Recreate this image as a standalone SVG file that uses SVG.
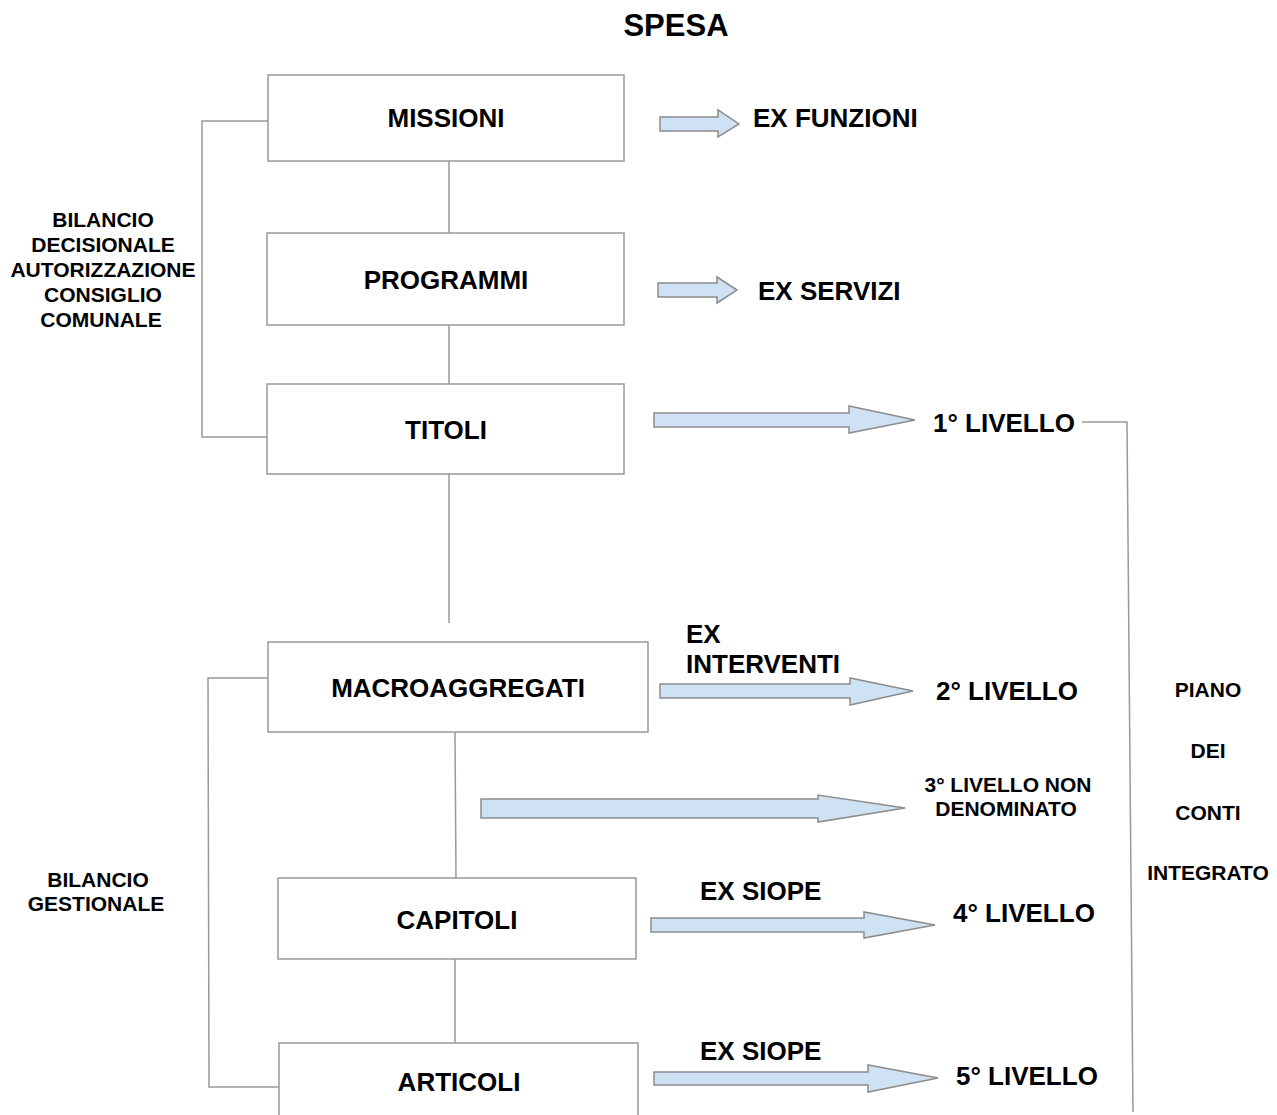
<svg xmlns="http://www.w3.org/2000/svg" width="1277" height="1115" viewBox="0 0 1277 1115">
<style>
text { font-family: "Liberation Sans", Arial, sans-serif; font-weight: bold; fill: #000; }
.t26 { font-size: 26px; }
.t21 { font-size: 21px; }
.mid { text-anchor: middle; }
.box { fill: #fff; stroke: #999; stroke-width: 1.5; }
.line { fill: none; stroke: #999; stroke-width: 1.5; }
.arr { fill: #cfe2f3; stroke: #8c8c8c; stroke-width: 1.5; stroke-linejoin: miter; }
</style>
<rect width="1277" height="1115" fill="#fff"/>
<text x="676" y="36" class="mid" style="font-size:31px">SPESA</text>

<g id="connectors">
  <line class="line" x1="449" y1="161" x2="449" y2="233"/>
  <line class="line" x1="449" y1="325" x2="449" y2="384"/>
  <line class="line" x1="449" y1="474" x2="449" y2="623"/>
  <line class="line" x1="455" y1="732" x2="456" y2="878"/>
  <line class="line" x1="455" y1="959" x2="455" y2="1043"/>
  <polyline class="line" points="268,121 202,121 202,437 267,437"/>
  <polyline class="line" points="268,678 208,678 209,1087 279,1087"/>
  <polyline class="line" points="1082,422 1127,422 1133,1112"/>
</g>

<g id="missioni"><rect class="box" x="268" y="75" width="356" height="86"/><text x="446" y="127" class="t26 mid">MISSIONI</text></g>
<g id="programmi"><rect class="box" x="267" y="233" width="357" height="92"/><text x="446" y="289" class="t26 mid">PROGRAMMI</text></g>
<g id="titoli"><rect class="box" x="267" y="384" width="357" height="90"/><text x="446" y="439" class="t26 mid">TITOLI</text></g>
<g id="macroaggregati"><rect class="box" x="268" y="642" width="380" height="90"/><text x="458" y="697" class="t26 mid">MACROAGGREGATI</text></g>
<g id="capitoli"><rect class="box" x="278" y="878" width="358" height="81"/><text x="457" y="929" class="t26 mid">CAPITOLI</text></g>
<g id="articoli"><rect class="box" x="279" y="1043" width="359" height="90"/><text x="459" y="1091" class="t26 mid">ARTICOLI</text></g>

<g id="label-decisionale">
  <text class="t21 mid" x="103" y="227">BILANCIO</text>
  <text class="t21 mid" x="103" y="252">DECISIONALE</text>
  <text class="t21 mid" x="103" y="277">AUTORIZZAZIONE</text>
  <text class="t21 mid" x="103" y="302">CONSIGLIO</text>
  <text class="t21 mid" x="101" y="327">COMUNALE</text>
</g>
<g id="label-gestionale">
  <text class="t21 mid" x="98" y="887">BILANCIO</text>
  <text class="t21 mid" x="96" y="911">GESTIONALE</text>
</g>
<g id="label-piano">
  <text class="t21 mid" x="1208" y="697">PIANO</text>
  <text class="t21 mid" x="1208" y="758">DEI</text>
  <text class="t21 mid" x="1208" y="820">CONTI</text>
  <text class="t21 mid" x="1208" y="880">INTEGRATO</text>
</g>

<g id="arrow-funzioni">
  <polygon class="arr" points="660,117 718,117 718,110 739,124 718,137 718,131 660,131"/>
  <text class="t26" x="753" y="127">EX FUNZIONI</text>
</g>
<g id="arrow-servizi">
  <polygon class="arr" points="658,283 717,283 717,277 737,290 717,303 717,297 658,297"/>
  <text class="t26" x="758" y="300">EX SERVIZI</text>
</g>
<g id="arrow-1">
  <polygon class="arr" points="654,413 849,413 849,406 915,420 849,433 849,427 654,427"/>
  <text class="t26" x="933" y="432">1° LIVELLO</text>
</g>
<g id="arrow-2">
  <polygon class="arr" points="660,684 850,684 850,678 913,691 850,705 850,698 660,698"/>
  <text class="t26" x="686" y="643">EX</text>
  <text class="t26" x="686" y="673">INTERVENTI</text>
  <text class="t26" x="936" y="700">2° LIVELLO</text>
</g>
<g id="arrow-3">
  <polygon class="arr" points="481,799 818,799 818,795 905,808 818,822 818,818 481,818"/>
  <text class="t21 mid" x="1008" y="792">3° LIVELLO NON</text>
  <text class="t21 mid" x="1006" y="816">DENOMINATO</text>
</g>
<g id="arrow-4">
  <polygon class="arr" points="651,918 864,918 864,912 935,925 864,938 864,932 651,932"/>
  <text class="t26" x="700" y="900">EX SIOPE</text>
  <text class="t26" x="953" y="922">4° LIVELLO</text>
</g>
<g id="arrow-5">
  <polygon class="arr" points="654,1072 868,1072 868,1065 938,1078 868,1092 868,1085 654,1085"/>
  <text class="t26" x="700" y="1060">EX SIOPE</text>
  <text class="t26" x="956" y="1085">5° LIVELLO</text>
</g>
</svg>
